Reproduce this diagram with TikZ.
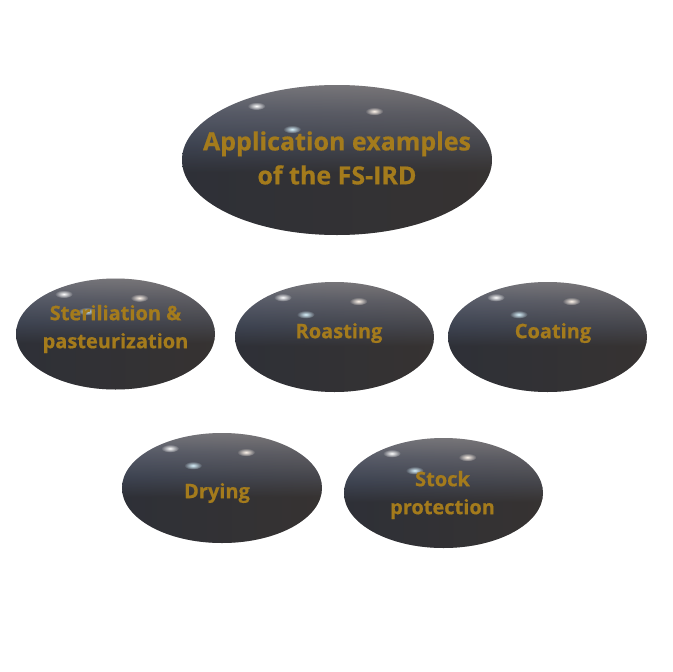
\documentclass[tikz,border=0pt]{standalone}
\usepackage{fontspec}
\setmainfont{Open Sans}
\newfontfamily\lblfont[BoldFeatures={FakeBold=0.6}]{Open Sans}
\usetikzlibrary{shapes.geometric,fadings}
\definecolor{gold}{HTML}{A47B1C}
\definecolor{btop}{HTML}{858283}
\definecolor{btopb}{HTML}{5F6068}
\definecolor{bmid}{HTML}{3E414A}
\definecolor{bbot}{HTML}{2A2828}
\definecolor{tintL}{HTML}{3C4A66}
\definecolor{tintR}{HTML}{5C5450}
\pgfdeclareverticalshading{ballshade}{100bp}{color(0bp)=(bbot); color(25bp)=(bbot); color(46bp)=(bbot); color(55bp)=(bmid); color(66bp)=(btopb); color(75bp)=(btop); color(100bp)=(btop)}
\tikzfading[name=spotfade, inner color=transparent!0, outer color=transparent!100]
\tikzset{
  ball/.style 2 args={shape=ellipse, minimum width=#1, minimum height=#2,
    inner sep=0pt, outer sep=0pt,
    path picture={
      \shade[shading=ballshade] (path picture bounding box.south west) rectangle (path picture bounding box.north east);
      \shade[left color=tintL, right color=tintR, opacity=0.25] (path picture bounding box.south west) rectangle (path picture bounding box.north east);
      \begin{scope}[shift={(path picture bounding box.center)}, x=#1/2, y=#2/2]
        \fill[white, path fading=spotfade] (-0.52,0.72) ellipse [x radius=9pt, y radius=4pt];
        \fill[white!92!orange, path fading=spotfade] (0.24,0.65) ellipse [x radius=9pt, y radius=4pt];
        \fill[white!85!cyan, path fading=spotfade] (-0.29,0.41) ellipse [x radius=9pt, y radius=4pt];
      \end{scope}
    }},
  lbl/.style={font=\lblfont\bfseries\fontsize{20}{28}\selectfont, text=gold, align=center},
  biglbl/.style={font=\lblfont\bfseries\fontsize{25}{34}\selectfont, text=gold, align=center},
}
\begin{document}
\begin{tikzpicture}[x=1pt, y=-1pt]
\useasboundingbox (0,0) rectangle (672,672);
\node[ball={310pt}{150pt}, label={[biglbl, yshift=2pt]center:Application examples\\of the FS-IRD}] (main) at (337,160) {};
\node[ball={199pt}{111pt}, label={[lbl, yshift=5pt]center:Steriliation \&\\pasteurization}] (ster) at (115.5,334) {};
\node[ball={199pt}{110pt}, label={[lbl, xshift=4.5pt, yshift=4pt]center:Roasting}] (roast) at (334.5,337) {};
\node[ball={199pt}{110pt}, label={[lbl, xshift=5.5pt, yshift=4pt]center:Coating}] (coat) at (547.5,337) {};
\node[ball={200pt}{110pt}, label={[lbl, xshift=-5pt, yshift=-5pt]center:Drying}] (dry) at (222,488) {};
\node[ball={199pt}{110pt}, label={[lbl, xshift=-1pt, yshift=-2pt]center:Stock\\protection}] (stock) at (443.5,493) {};
\end{tikzpicture}
\end{document}
